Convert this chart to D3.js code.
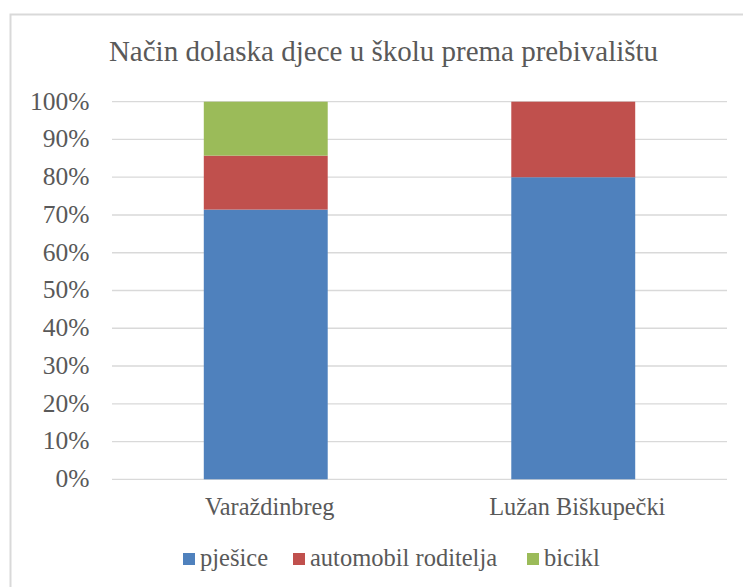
<!DOCTYPE html>
<html><head><meta charset="utf-8">
<script src="https://cdn.jsdelivr.net/npm/d3@7"></script>
<style>body{margin:0;background:#fff}svg{display:block}
svg text{font-family:"Liberation Serif","Times New Roman","DejaVu Serif",serif;fill:#595959}</style>
</head><body>
<script>
const categories = ["Varaždinbreg", "Lužan Biškupečki"];
const seriesNames = ["pješice", "automobil roditelja", "bicikl"];
const pjesice = [71.43, 80];
const automobil = [14.29, 20];
const bicikl = [14.28, 0];
const yTicks = [0,10,20,30,40,50,60,70,80,90,100];
const colors = ["#4f81bd", "#c0504d", "#9bbb59"];

const W = 743, H = 587;
const svg = d3.select("body").append("svg").attr("width", W).attr("height", H);

// chart border
svg.append("rect").attr("x", 10.5).attr("y", 14.5).attr("width", 800).attr("height", 700)
  .attr("fill", "#fff").attr("stroke", "#d9d9d9").attr("stroke-width", 2);

const x = d3.scaleBand().domain(categories).range([112, 727]).paddingInner(0.597).paddingOuter(0.2985);
const y = d3.scaleLinear().domain([0, 100]).range([479.3, 101.7]);

// gridlines
svg.append("g").selectAll("line").data(yTicks).join("line")
  .attr("x1", 112).attr("x2", 727)
  .attr("y1", d => y(d)).attr("y2", d => y(d))
  .attr("stroke", "#d9d9d9").attr("stroke-width", 1.3);

// y labels
svg.append("g").selectAll("text").data(yTicks).join("text")
  .attr("x", 89.5).attr("y", d => y(d) + 7.8)
  .attr("text-anchor", "end").attr("font-size", 25.5)
  .text(d => d + "%");

const rows = categories.map((c, i) => ({cat: c, "pješice": pjesice[i], "automobil roditelja": automobil[i], "bicikl": bicikl[i]}));
const stack = d3.stack().keys(seriesNames)(rows);

svg.append("g").selectAll("g").data(stack).join("g")
  .attr("fill", (d, i) => colors[i])
  .selectAll("rect").data(d => d).join("rect")
  .attr("x", d => x(d.data.cat)).attr("width", x.bandwidth())
  .attr("y", d => y(d[1])).attr("height", d => y(d[0]) - y(d[1]));

// x labels
svg.append("g").selectAll("text").data(categories).join("text")
  .attr("x", d => x(d) + x.bandwidth() / 2 + 4).attr("y", 515)
  .attr("text-anchor", "middle").attr("font-size", 24.3)
  .text(d => d);

// title
svg.append("text").attr("x", 383.5).attr("y", 61).attr("text-anchor", "middle")
  .attr("font-size", 29)
  .text("Način dolaska djece u školu prema prebivalištu");

// legend
const legendX = [183, 293, 527];
const lg = svg.append("g").selectAll("g").data(seriesNames).join("g")
  .attr("transform", (d, i) => `translate(${legendX[i]},566)`);
lg.append("rect").attr("x", 0).attr("y", -13).attr("width", 12).attr("height", 12)
  .attr("fill", (d, i) => colors[i]);
lg.append("text").attr("x", 17).attr("y", 0).attr("font-size", 24.5)
  .text(d => d);
</script>
</body></html>
